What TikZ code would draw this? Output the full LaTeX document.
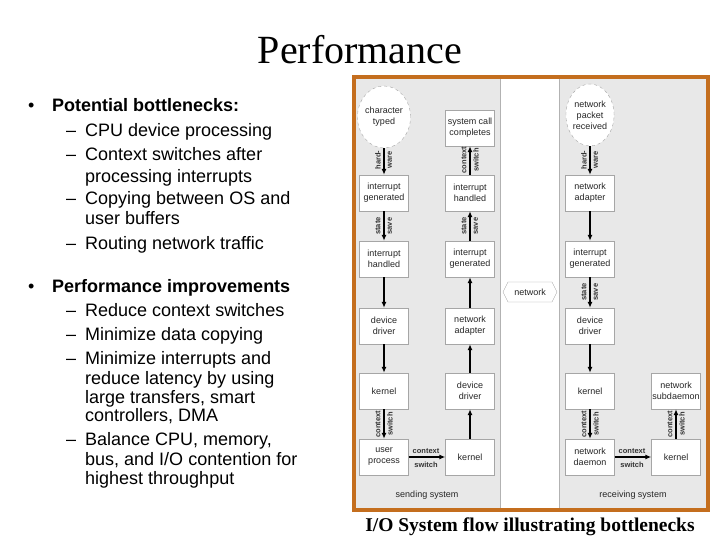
\documentclass[tikz,border=0pt]{standalone}
\usepackage{fontspec}
\setmainfont{Liberation Serif}
\setsansfont{Liberation Sans}
\usetikzlibrary{shapes.geometric,arrows.meta}
\begin{document}
\begin{tikzpicture}[x=1pt,y=-1pt,
  bl/.style={anchor=base west,font=\sffamily\fontsize{18}{20}\selectfont,inner sep=0pt},
  box/.style={draw=gray!70,fill=white,minimum width=49pt,minimum height=36pt,inner sep=0pt,align=center,font=\sffamily\fontsize{9}{11}\selectfont,text=black!85},
  ell/.style={ellipse,draw=gray!70,dashed,fill=white,minimum width=48pt,minimum height=62pt,inner sep=0pt,align=center,font=\sffamily\fontsize{9}{11}\selectfont,text=black!85},
  ar/.style={-{Latex[length=6pt,width=5pt]},line width=1.2pt},
  lab/.style={rotate=90,font=\sffamily\bfseries\fontsize{7.5}{8}\selectfont,inner sep=0pt,text=black!80},
  hl/.style={font=\sffamily\bfseries\fontsize{7.5}{8}\selectfont,inner sep=0pt,text=black!80},
  sm/.style={font=\sffamily\fontsize{9}{11}\selectfont,text=black!85}]
\useasboundingbox (0,0) rectangle (720,540);
\fill[white] (0,0) rectangle (720,540);
\node[font=\fontsize{40}{44}\selectfont] (title) at (360,50) {Performance};
% bullets (baselines)
\node[bl] (b1) at (28,112) {•}; \node[bl,font=\sffamily\bfseries\fontsize{18}{20}\selectfont] (t1) at (52,112) {Potential bottlenecks:};
\node[bl] (d1) at (66,137) {–}; \node[bl] (s1) at (85,137) {CPU device processing};
\node[bl] (d2) at (66,161) {–}; \node[bl] (s2) at (85,161) {Context switches after};
\node[bl] (s2b) at (85,183) {processing interrupts};
\node[bl] (d3) at (66,205) {–}; \node[bl] (s3) at (85,205) {Copying between OS and};
\node[bl] (s3b) at (85,225) {user buffers};
\node[bl] (d4) at (66,249) {–}; \node[bl] (s4) at (85,249) {Routing network traffic};
\node[bl] (b2) at (28,292) {•}; \node[bl,font=\sffamily\bfseries\fontsize{18}{20}\selectfont] (t2) at (52,292) {Performance improvements};
\node[bl] (e1) at (66,316) {–}; \node[bl] (u1) at (85,316) {Reduce context switches};
\node[bl] (e2) at (66,340) {–}; \node[bl] (u2) at (85,340) {Minimize data copying};
\node[bl] (e3) at (66,364) {–}; \node[bl] (u3) at (85,364) {Minimize interrupts and};
\node[bl] (u3b) at (85,384) {reduce latency by using};
\node[bl] (u3c) at (85,403) {large transfers, smart};
\node[bl] (u3d) at (85,421) {controllers, DMA};
\node[bl] (e4) at (66,445) {–}; \node[bl] (u4) at (85,445) {Balance CPU, memory,};
\node[bl] (u4b) at (85,465) {bus, and I/O contention for};
\node[bl] (u4c) at (85,484) {highest throughput};
% diagram frame
\fill[gray!18] (354,77) rectangle (708,510);
\fill[white] (500,77) rectangle (559,510);
\draw[gray!60,line width=0.6pt] (500,77) -- (500,510) (559,77) -- (559,510);
\draw[line width=4pt,draw={rgb,255:red,196;green,110;blue,30}] (354,77) rectangle (708,510);
% nodes
\node[ell] (ct) at (384,117) {character\\typed};
\node[ell] (np) at (590,115) {network\\packet\\received};
\node[box] (scc) at (470,128) {system call\\completes};
\node[box] (ig1) at (384,193) {interrupt\\generated};
\node[box] (ih2) at (470,193) {interrupt\\handled};
\node[box] (na3) at (590,193) {network\\adapter};
\node[box] (ih1) at (384,259) {interrupt\\handled};
\node[box] (ig2) at (470,259) {interrupt\\generated};
\node[box] (ig3) at (590,259) {interrupt\\generated};
\node[box] (dd1) at (384,326) {device\\driver};
\node[box] (na2) at (470,326) {network\\adapter};
\node[box] (dd3) at (590,326) {device\\driver};
\node[box] (k1) at (384,391) {kernel};
\node[box] (dd2) at (470,391) {device\\driver};
\node[box] (k3) at (590,391) {kernel};
\node[box] (ns) at (676,391) {network\\subdaemon};
\node[box] (up) at (384,457) {user\\process};
\node[box] (k2) at (470,457) {kernel};
\node[box] (nd) at (590,457) {network\\daemon};
\node[box] (k4) at (676,457) {kernel};
% network banner
\draw[gray!70,fill=white] (503,292) -- (508,282) -- (552,282) -- (557,292) -- (552,302) -- (508,302) -- cycle;
\node[sm] (net) at (530,292) {network};
% arrows col1
\draw[ar] (ct) -- (ig1); \draw[ar] (ig1) -- (ih1); \draw[ar] (ih1) -- (dd1); \draw[ar] (dd1) -- (k1); \draw[ar] (k1) -- (up);
% col2
\draw[ar] (ih2) -- (scc); \draw[ar] (ig2) -- (ih2); \draw[ar] (na2) -- (ig2); \draw[ar] (dd2) -- (na2); \draw[ar] (k2) -- (dd2);
% col3
\draw[ar] (np) -- (na3); \draw[ar] (na3) -- (ig3); \draw[ar] (ig3) -- (dd3); \draw[ar] (dd3) -- (k3); \draw[ar] (k3) -- (nd);
% col4
\draw[ar] (k4) -- (ns);
% horizontal
\draw[ar] (up) -- (k2); \draw[ar] (nd) -- (k4);
% labels
\node[lab] (l1) at (378,160) {hard-}; \node[lab] (l2) at (390,160) {ware};
\node[lab] (l3) at (378,226) {state}; \node[lab] (l4) at (390,226) {save};
\node[lab] (l5) at (378,424) {context}; \node[lab] (l6) at (390,424) {switch};
\node[lab] (l7) at (464,160) {context}; \node[lab] (l8) at (476,160) {switch};
\node[lab] (l9) at (464,226) {state}; \node[lab] (l10) at (476,226) {save};
\node[lab] (l11) at (584,160) {hard-}; \node[lab] (l12) at (596,160) {ware};
\node[lab] (l13) at (584,292) {state}; \node[lab] (l14) at (596,292) {save};
\node[lab] (l15) at (584,424) {context}; \node[lab] (l16) at (596,424) {switch};
\node[lab] (l17) at (670,424) {context}; \node[lab] (l18) at (682,424) {switch};
\node[hl] (h1) at (426,451) {context}; \node[hl] (h2) at (426,465) {switch};
\node[hl] (h3) at (632,451) {context}; \node[hl] (h4) at (632,465) {switch};
\node[sm] (ss) at (427,495) {sending system};
\node[sm] (rs) at (633,495) {receiving system};
\node[font=\bfseries\fontsize{19.5}{22}\selectfont] (cap) at (530,527) {I/O System flow illustrating bottlenecks};
\end{tikzpicture}
\end{document}
